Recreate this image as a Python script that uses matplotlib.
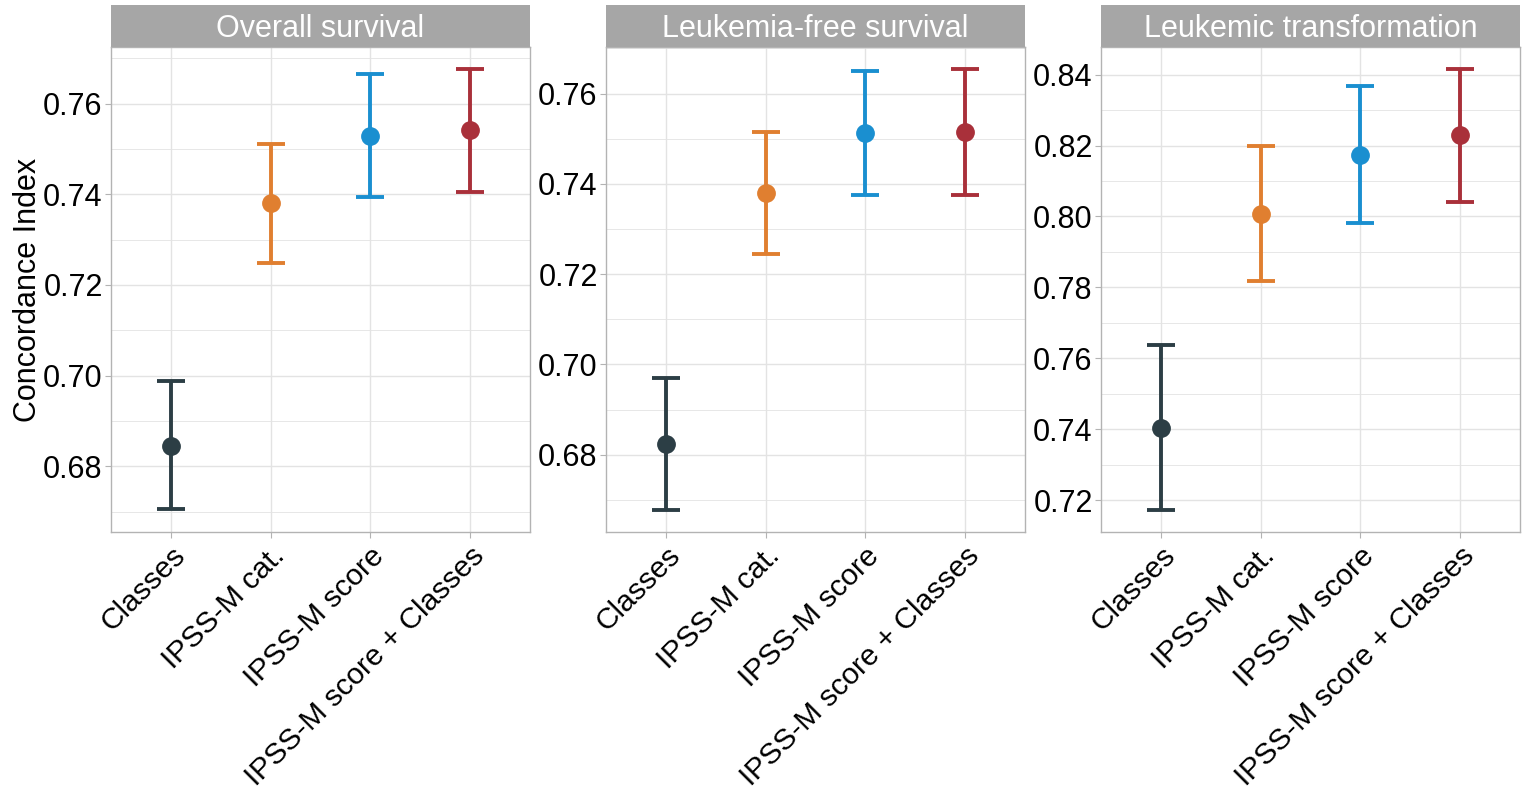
import matplotlib
matplotlib.use("Agg")
import matplotlib.pyplot as plt
from matplotlib.ticker import MultipleLocator, FixedLocator

plt.rcParams['font.family'] = ['Liberation Sans', 'DejaVu Sans']

models = ["Classes", "IPSS-M cat.", "IPSS-M score", "IPSS-M score + Classes"]
colors = ["#2C3E45", "#E07F30", "#1A8FD0", "#A9303A"]

outcomes = ["Overall survival", "Leukemia-free survival", "Leukemic transformation"]

# Concordance index estimates with 95% CI bounds, per outcome
os_est = [0.6845, 0.7380, 0.7528, 0.7542]
os_low = [0.6705, 0.7249, 0.7394, 0.7406]
os_high = [0.6988, 0.7512, 0.7665, 0.7677]

lfs_est = [0.6823, 0.7379, 0.7512, 0.7515]
lfs_low = [0.6678, 0.7245, 0.7375, 0.7375]
lfs_high = [0.6969, 0.7514, 0.7650, 0.7654]

lt_est = [0.7403, 0.8007, 0.8174, 0.8229]
lt_low = [0.7173, 0.7817, 0.7981, 0.8041]
lt_high = [0.7638, 0.8199, 0.8367, 0.8416]

y_ticks = [
    [0.68, 0.70, 0.72, 0.74, 0.76],
    [0.68, 0.70, 0.72, 0.74, 0.76],
    [0.72, 0.74, 0.76, 0.78, 0.80, 0.82, 0.84],
]
y_limits = [(0.6655, 0.7725), (0.6629, 0.7703), (0.7110, 0.8478)]

panels = [
    (os_est, os_low, os_high),
    (lfs_est, lfs_low, lfs_high),
    (lt_est, lt_low, lt_high),
]

W, H = 1529, 795
fig = plt.figure(figsize=(W / 100, H / 100), dpi=100)

grid_col = "#E3E3E3"
border_col = "#B3B3B3"
strip_col = "#A6A6A6"

lefts = [111, 606, 1101]
pw = 419
top_px, bottom_px = 47, 532
strip_top = 5

for i, (est, low, high) in enumerate(panels):
    l = lefts[i] / W
    b = 1 - bottom_px / H
    h = (bottom_px - top_px) / H
    ax = fig.add_axes([l, b, pw / W, h])
    xs = list(range(1, len(models) + 1))
    for x, e, lo, hi, c in zip(xs, est, low, high, colors):
        ax.errorbar([x], [e], yerr=[[e - lo], [hi - e]], fmt="o", color=c,
                    ecolor=c, elinewidth=2.8, capsize=10, capthick=2.8,
                    markersize=12.5, zorder=3)
    ax.set_xlim(0.4, 4.6)
    ax.set_ylim(*y_limits[i])
    ax.set_xticks(xs)
    ax.set_xticklabels(models, rotation=45, ha="right", va="top",
                       rotation_mode="anchor", fontsize=21.5)
    ax.yaxis.set_major_locator(FixedLocator(y_ticks[i]))
    ax.yaxis.set_minor_locator(MultipleLocator(0.01))
    ax.set_yticklabels([f"{v:.2f}" for v in y_ticks[i]], fontsize=22)
    ax.grid(which="major", color=grid_col, linewidth=1.0, zorder=0)
    ax.grid(which="minor", axis="y", color=grid_col, linewidth=0.6, zorder=0)
    ax.set_axisbelow(True)
    ax.tick_params(axis="both", which="major", length=4, color=border_col,
                   width=0.8, pad=3, labelcolor="black")
    ax.tick_params(axis="y", which="major", pad=2)
    ax.tick_params(axis="y", which="minor", length=0)
    for s in ax.spines.values():
        s.set_color(border_col)
        s.set_linewidth(1.0)
    if i == 0:
        ax.set_ylabel("Concordance Index", fontsize=22, labelpad=0)

    # facet strip
    sax = fig.add_axes([l, 1 - top_px / H, pw / W, (top_px - strip_top) / H])
    sax.set_facecolor(strip_col)
    sax.set_xticks([])
    sax.set_yticks([])
    for s in sax.spines.values():
        s.set_visible(False)
    sax.text(0.5, 0.43, outcomes[i], color="white", fontsize=22,
             ha="center", va="center", transform=sax.transAxes)

fig.savefig("out.png", dpi=100, facecolor="white")
